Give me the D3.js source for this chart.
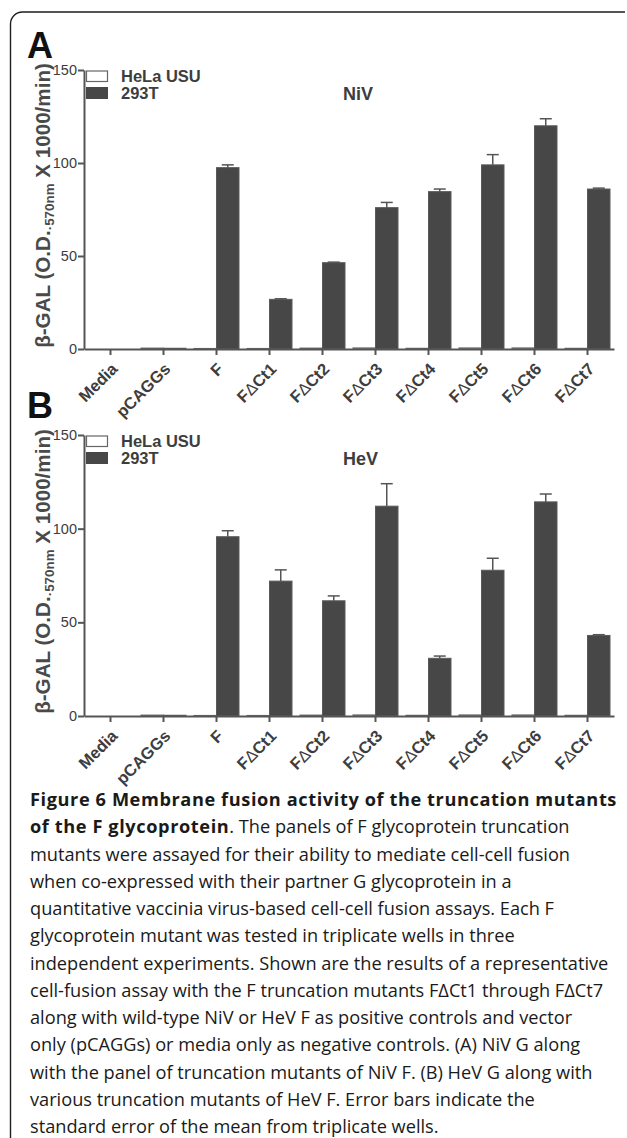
<!DOCTYPE html>
<html>
<head>
<meta charset="utf-8">
<script src="https://cdn.jsdelivr.net/npm/d3@7"></script>
<style>
  body { margin: 0; background: #fff; }
  svg { display: block; }
</style>
</head>
<body>
<div id="fig"></div>
<script>
// ------------------------------------------------------------------
//  Figure 6 - fusion activity of F truncation mutants (NiV / HeV)
// ------------------------------------------------------------------
const categories = ["Media", "pCAGGs", "F", "F\u0394Ct1", "F\u0394Ct2", "F\u0394Ct3",
                    "F\u0394Ct4", "F\u0394Ct5", "F\u0394Ct6", "F\u0394Ct7"]
const series = ["HeLa USU", "293T"]
const yTicks = [0, 50, 100, 150]

// panel A - NiV
const nivHela = [0, 0.5, 0.3, 0.3, 0.5, 0.6, 0.4, 0.6, 0.6, 0.4]
const niv293 = [0, 0.4, 97.5, 26.7, 46.4, 76, 84.6, 99, 120, 86]
const niv293Err = [0, 0, 1.5, 0.3, 0.3, 2.8, 1.4, 5.5, 3.8, 0.5]

// panel B - HeV
const hevHela = [0, 0.5, 0.3, 0.3, 0.5, 0.6, 0.4, 0.6, 0.6, 0.4]
const hev293 = [0, 0.4, 95.7, 72, 61.5, 112, 30.8, 77.8, 114.3, 43]
const hev293Err = [0, 0, 3.2, 6, 2.6, 12, 1.2, 6.4, 4.2, 0.4]

const W = 627, H = 1138
const ink = "#3d3d3d"
const barFill = "#474747"

const svg = d3.select("#fig").append("svg")
    .attr("width", W)
    .attr("height", H)

// frame with rounded top-left corner
svg.append("path")
    .attr("d", "M10.5,1138 V24 A12,12 0 0 1 22.5,12 H625")
    .attr("fill", "none")
    .attr("stroke", "#1e1e1e")
    .attr("stroke-width", 1.4)

function drawPanel(opts) {
    const y = d3.scaleLinear().domain([0, 150]).range([opts.y0, opts.yTop])
    const x0 = d3.scaleBand().domain(categories).range([84, 614]).padding(0)
    const x1 = d3.scaleBand().domain(series).range([4, 49]).padding(0)

    const g = svg.append("g")

    // panel letter
    g.append("text")
        .attr("x", 27).attr("y", opts.letterY)
        .attr("font-family", "Liberation Sans, Arial, sans-serif")
        .attr("font-weight", "bold")
        .attr("font-size", 36)
        .attr("fill", "#111")
        .text(opts.letter)

    // bars
    const rows = categories.map((c, i) => ({
        cat: c,
        vals: [
            { s: series[0], v: opts.hela[i] },
            { s: series[1], v: opts.t293[i], e: opts.err[i] }
        ]
    }))

    const grp = g.selectAll(".grp")
        .data(rows)
        .enter().append("g")
        .attr("class", "grp")
        .attr("transform", d => "translate(" + x0(d.cat) + ",0)")

    grp.selectAll("rect")
        .data(d => d.vals)
        .enter().append("rect")
        .attr("x", d => x1(d.s))
        .attr("y", d => y(d.v))
        .attr("width", x1.bandwidth())
        .attr("height", d => y(0) - y(d.v))
        .attr("fill", d => d.s === series[0] ? "#fff" : barFill)
        .attr("stroke", d => d.s === series[0] ? "#666" : "#5a5a5a")
        .attr("stroke-width", 1)

    // error bars (upper only)
    const eb = grp.filter(d => d.vals[1].e > 0)
        .append("g")
        .attr("stroke", "#555")
        .attr("stroke-width", 1.5)
    eb.append("line")
        .attr("x1", x1(series[1]) + x1.bandwidth() / 2)
        .attr("x2", x1(series[1]) + x1.bandwidth() / 2)
        .attr("y1", d => y(d.vals[1].v))
        .attr("y2", d => y(d.vals[1].v + d.vals[1].e))
    eb.append("line")
        .attr("x1", x1(series[1]) + x1.bandwidth() / 2 - 6)
        .attr("x2", x1(series[1]) + x1.bandwidth() / 2 + 6)
        .attr("y1", d => y(d.vals[1].v + d.vals[1].e))
        .attr("y2", d => y(d.vals[1].v + d.vals[1].e))

    // y axis
    const ya = g.append("g")
        .attr("transform", "translate(84,0)")
        .call(d3.axisLeft(y).tickValues(yTicks).tickSize(6).tickSizeOuter(0))
    ya.select(".domain").attr("stroke", "#555").attr("stroke-width", 2)
    ya.selectAll(".tick line").attr("stroke", "#555").attr("stroke-width", 2)
    ya.selectAll(".tick text")
        .attr("font-family", "Liberation Sans, Arial, sans-serif")
        .attr("font-size", 14.5)
        .attr("fill", ink)
        .attr("x", -7)

    // x axis
    const xa = g.append("g")
        .attr("transform", "translate(0," + opts.y0 + ")")
        .call(d3.axisBottom(x0).tickSize(6).tickSizeOuter(0))
    xa.select(".domain").attr("stroke", "#555").attr("stroke-width", 2)
    xa.selectAll(".tick line").attr("stroke", "#555").attr("stroke-width", 2)
    xa.selectAll(".tick text").remove()
    xa.selectAll(".tick").each(function (d) {
        const t = d3.select(this).append("text")
            .attr("transform", "translate(8,21) rotate(-45)")
            .attr("text-anchor", "end")
            .attr("font-family", "Liberation Sans, Arial, sans-serif")
            .attr("font-weight", "bold")
            .attr("font-size", 16.5)
            .attr("fill", ink)
        const parts = d.split("\u0394")
        t.append("tspan").text(parts[0])
        if (parts.length > 1) {
            t.append("tspan").attr("font-weight", "normal").text("\u0394")
            t.append("tspan").text(parts[1])
        }
    })

    // y title, sized to span ~285px like the original
    const ty = g.append("text")
        .attr("transform", "translate(50," + ((opts.y0 + opts.yTop) / 2 - 4) + ") rotate(-90)")
        .attr("text-anchor", "middle")
        .attr("font-family", "Liberation Sans, Arial, sans-serif")
        .attr("font-weight", "bold")
        .attr("font-size", 20)
        .attr("fill", "#4a4a4a")
    ty.append("tspan").text("\u03b2-GAL (O.D.")
    const sub = ty.append("tspan").attr("font-size", 13).attr("dy", 4).text("\u00b7570nm")
    ty.append("tspan").attr("dy", -4).text(" X 1000/min)")
    const k = 285 / ty.node().getComputedTextLength()
    ty.attr("font-size", 20 * k)
    sub.attr("font-size", 13 * k)

    // legend
    const lg = g.append("g")
        .attr("font-family", "Liberation Sans, Arial, sans-serif")
        .attr("font-weight", "bold")
        .attr("font-size", 16.5)
        .attr("fill", ink)
    lg.append("rect").attr("x", 86.5).attr("y", opts.yTop + 1)
        .attr("width", 21).attr("height", 10.5)
        .attr("fill", "#fff").attr("stroke", "#666").attr("stroke-width", 1.2)
    lg.append("rect").attr("x", 86).attr("y", opts.yTop + 17)
        .attr("width", 22).attr("height", 12)
        .attr("fill", barFill)
    lg.append("text").attr("x", 121).attr("y", opts.yTop + 12).text(series[0])
    lg.append("text").attr("x", 121).attr("y", opts.yTop + 28.5).text(series[1])

    // virus label
    g.append("text")
        .attr("x", 343).attr("y", opts.yTop + 29.5)
        .attr("font-family", "Liberation Sans, Arial, sans-serif")
        .attr("font-weight", "bold")
        .attr("font-size", 18)
        .attr("fill", ink)
        .text(opts.name)
}

drawPanel({ letter: "A", letterY: 58, name: "NiV", yTop: 70, y0: 349,
            hela: nivHela, t293: niv293, err: niv293Err })
drawPanel({ letter: "B", letterY: 418, name: "HeV", yTop: 435, y0: 716,
            hela: hevHela, t293: hev293, err: hev293Err })

// ------------------------------------------------------------------
// caption
const captionLines = [
    [["b", "Figure 6 Membrane fusion activity of the truncation mutants"]],
    [["b", "of the F glycoprotein"], ["r", ". The panels of F glycoprotein truncation"]],
    [["r", "mutants were assayed for their ability to mediate cell-cell fusion"]],
    [["r", "when co-expressed with their partner G glycoprotein in a"]],
    [["r", "quantitative vaccinia virus-based cell-cell fusion assays. Each F"]],
    [["r", "glycoprotein mutant was tested in triplicate wells in three"]],
    [["r", "independent experiments. Shown are the results of a representative"]],
    [["r", "cell-fusion assay with the F truncation mutants F\u0394Ct1 through F\u0394Ct7"]],
    [["r", "along with wild-type NiV or HeV F as positive controls and vector"]],
    [["r", "only (pCAGGs) or media only as negative controls. (A) NiV G along"]],
    [["r", "with the panel of truncation mutants of NiV F. (B) HeV G along with"]],
    [["r", "various truncation mutants of HeV F. Error bars indicate the"]],
    [["r", "standard error of the mean from triplicate wells."]]
]

const cap = svg.append("g")
    .attr("font-family", "Open Sans, Noto Sans, sans-serif")
    .attr("fill", "#1a1a1a")

// fit the font size on the widest regular line
const probe = cap.append("text").attr("font-size", 20).text(captionLines[6][0][1])
const capSize = 20 * 579 / probe.node().getComputedTextLength()
probe.remove()

// bold run is set a little wider in the original
const probeB = cap.append("text").attr("font-size", capSize).attr("font-weight", "bold")
    .text(captionLines[0][0][1])
const boldSpacing = (587 - probeB.node().getComputedTextLength()) / captionLines[0][0][1].length
probeB.remove()

captionLines.forEach((line, i) => {
    const t = cap.append("text")
        .attr("x", 30)
        .attr("y", 806 + i * 27.25)
        .attr("font-size", capSize)
    line.forEach(p => {
        t.append("tspan")
            .attr("font-weight", p[0] === "b" ? "bold" : "normal")
            .attr("letter-spacing", p[0] === "b" ? boldSpacing : 0)
            .text(p[1])
    })
})
</script>
</body>
</html>
